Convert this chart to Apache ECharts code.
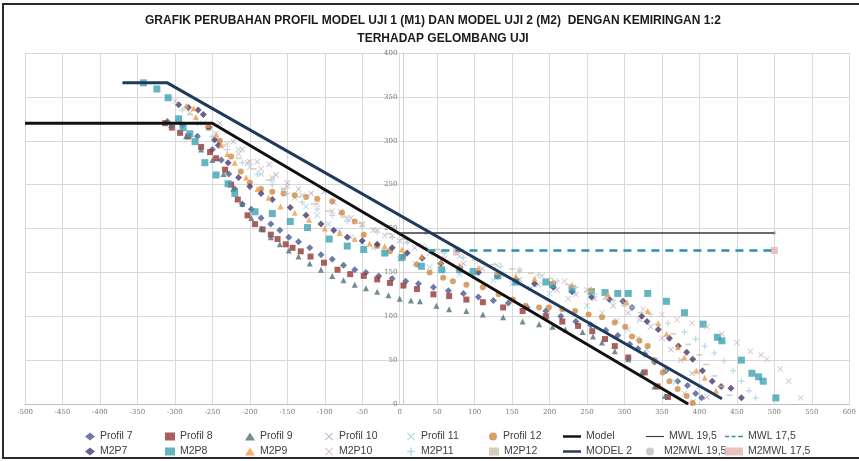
<!DOCTYPE html>
<html>
<head>
<meta charset="utf-8">
<script src="https://cdn.jsdelivr.net/npm/echarts@6/dist/echarts.min.js"></script>
<style>
html,body{margin:0;padding:0;background:#fff;}
#chart{width:859px;height:461px;}
</style>
</head>
<body>
<div id="chart"></div>
<script>
// ---- axis setup ----
const xAxisRange = [-500, 600, 50];
const yAxisRange = [0, 400, 50];

// ---- Model 1 series ----
const profil7 = [[-310,322],[-290,318],[-270,305],[-250,290],[-238,278],[-228,262],[-220,245],[-210,228],[-198,222],[-185,212],[-172,205],[-160,198],[-148,190],[-135,185],[-120,178],[-105,170],[-90,165],[-75,158],[-60,153],[-45,150],[-28,146],[-10,143],[8,140],[25,137],[45,133],[65,129],[85,126],[105,122],[125,118],[145,115],[170,110],[195,106],[215,100],[235,94],[255,90],[275,84],[291,78],[307,68],[318,63],[327,57],[340,48],[355,38],[371,26],[384,21],[395,12],[403,7]];
const profil8 = [[-313,320],[-304,315],[-293,309],[-282,305],[-265,293],[-253,287],[-245,280],[-233,267],[-225,250],[-216,233],[-203,215],[-193,205],[-183,199],[-172,193],[-163,188],[-152,182],[-143,178],[-132,174],[-119,168],[-101,161],[-83,153],[-66,148],[-48,146],[-30,142],[-13,138],[5,135],[23,131],[45,125],[66,123],[89,119],[111,116],[138,110],[164,106],[195,100],[217,94],[238,89],[257,83],[274,74],[287,66],[305,53],[327,36],[344,20],[358,8]];
const profil9 = [[-305,318],[-285,305],[-265,290],[-250,278],[-235,262],[-222,245],[-210,228],[-198,212],[-185,200],[-172,190],[-160,182],[-148,175],[-135,168],[-120,160],[-105,153],[-90,146],[-75,141],[-60,136],[-45,132],[-30,128],[-15,124],[0,120],[15,118],[27,117],[49,112],[66,108],[89,106],[111,102],[138,99],[164,94],[186,91],[204,88],[221,85],[244,82],[258,77],[270,70],[287,60],[305,51],[323,36],[340,20],[354,9]];
const profil10 = [[-240,320],[-222,299],[-210,290],[-203,275],[-190,276],[-174,273],[-165,261],[-150,252],[-135,245],[-118,240],[-101,242],[-88,230],[-79,219],[-65,212],[-50,205],[-35,198],[-20,192],[0,186],[20,178],[40,172],[60,166],[85,160],[110,154],[135,148],[160,142],[185,136],[210,130],[235,125],[260,120],[285,112],[305,104],[320,96],[335,88],[350,75],[362,62],[375,50],[390,35],[400,20],[410,8]];
const profil11 = [[-230,310],[-215,290],[-200,270],[-185,262],[-170,255],[-155,245],[-140,235],[-125,225],[-110,215],[-95,205],[-80,198],[-65,190],[-50,184],[-35,178],[-18,172],[0,165],[20,160],[40,156],[60,152],[80,148],[100,145],[125,141],[150,137],[175,132],[200,126],[225,120],[250,112],[270,104],[290,95],[305,85],[318,75],[330,62],[342,50],[355,38],[368,25],[380,12],[392,3]];
const profil12 = [[-255,315],[-240,300],[-225,282],[-212,265],[-200,252],[-185,245],[-170,242],[-155,240],[-140,238],[-125,236],[-110,234],[-90,231],[-77,218],[-60,208],[-48,193],[-30,180],[-13,174],[5,168],[23,159],[40,150],[58,144],[71,140],[89,136],[111,133],[132,125],[151,119],[168,112],[186,110],[199,110],[217,108],[234,106],[252,102],[270,99],[287,93],[301,88],[310,77],[320,72],[331,66],[340,50],[351,36],[360,26],[371,17],[383,9],[391,1]];
const model1 = [[-500,320],[-250,320],[385,0]];
const mwl195 = [[0,195],[500,195]];
const mwl175 = [[37,175],[500,175]];

// ---- Model 2 series ----
const m2p7 = [[-295,341],[-282,338],[-269,335],[-262,330],[-255,315],[-247,301],[-242,295],[-229,275],[-215,258],[-200,248],[-185,240],[-170,233],[-146,224],[-125,215],[-105,205],[-88,198],[-70,190],[-50,186],[-30,182],[-10,178],[10,172],[30,166],[55,160],[80,155],[105,150],[130,146],[155,141],[180,137],[205,133],[230,128],[256,122],[280,119],[298,117],[310,110],[323,100],[330,94],[345,85],[360,75],[372,66],[383,59],[391,51],[404,38],[417,26],[429,20],[442,18],[456,7]];
const m2p8 = [[-342,366],[-324,359],[-309,349],[-295,325],[-289,315],[-280,308],[-273,299],[-260,275],[-245,261],[-229,251],[-220,240],[-193,219],[-170,217],[-146,208],[-123,201],[-94,188],[-70,180],[-48,176],[-20,172],[3,167],[29,157],[56,153],[80,153],[98,151],[131,146],[155,139],[195,139],[204,136],[230,131],[256,128],[274,127],[291,126],[305,126],[331,126],[356,117],[380,104],[405,91],[424,76],[430,72],[456,50],[470,35],[479,31],[485,26],[502,7]];
const m2p9 = [[-285,340],[-275,337],[-272,327],[-256,318],[-245,307],[-238,295],[-230,285],[-220,275],[-205,258],[-190,245],[-175,235],[-159,225],[-140,218],[-121,210],[-100,200],[-80,195],[-60,188],[-40,183],[-20,180],[3,176],[29,168],[55,162],[80,158],[105,155],[130,150],[155,146],[180,143],[205,140],[230,136],[256,131],[278,125],[303,116],[331,106],[345,92],[356,80],[371,65],[380,53],[396,38],[407,30],[422,15]];
const m2p10 = [[-300,345],[-280,332],[-262,320],[-245,308],[-230,296],[-215,285],[-200,276],[-185,268],[-170,258],[-150,248],[-130,238],[-110,228],[-90,220],[-70,212],[-50,205],[-30,198],[-10,192],[10,186],[30,180],[55,174],[80,168],[105,163],[130,158],[160,152],[190,146],[220,140],[250,130],[275,122],[300,115],[325,108],[350,102],[370,96],[390,92],[410,88],[430,80],[450,70],[468,60],[482,56],[490,51],[508,40],[519,26],[535,7]];
const m2p11 = [[-290,335],[-270,320],[-250,305],[-230,290],[-210,275],[-190,262],[-170,250],[-150,240],[-130,230],[-110,222],[-90,215],[-70,208],[-50,202],[-30,196],[-10,190],[10,184],[35,178],[60,172],[85,167],[110,162],[135,157],[160,152],[185,147],[210,140],[235,133],[260,125],[285,118],[310,110],[335,102],[358,92],[380,82],[395,74],[407,66],[420,58],[433,49],[445,38],[456,26],[466,15],[475,7]];
const m2p12 = [[-280,330],[-255,312],[-235,295],[-215,280],[-195,268],[-175,255],[-155,245],[-135,236],[-115,228],[-95,220],[-75,213],[-55,206],[-35,200],[-15,194],[5,188],[25,182],[50,176],[75,170],[100,164],[125,159],[150,154],[175,149],[200,143],[225,136],[250,128],[275,120],[300,112],[322,104],[344,91],[365,80],[385,68],[400,56],[409,45],[420,32],[430,20],[440,10]];
const model2 = [[-370,366],[-310,366],[430,6]];
const m2mwl195 = [[35,195],[500,195]];
const m2mwl175 = [[76,175],[500,175]];

const legendRow1 = ['Profil 7','Profil 8','Profil 9','Profil 10','Profil 11','Profil 12','Model','MWL 19,5','MWL 17,5'];
const legendRow2 = ['M2P7','M2P8','M2P9','M2P10','M2P11','M2P12','MODEL 2','M2MWL 19,5','M2MWL 17,5'];

const SYM_X = 'path://M1,0L5,4L9,0L10,1L6,5L10,9L9,10L5,6L1,10L0,9L4,5L0,1Z';
const SYM_PLUS = 'path://M4,0H6V4H10V6H6V10H4V6H0V4H4Z';
const ICON_THICK = 'path://M0,3H22V6H0Z';
const ICON_THIN = 'path://M0,3.8H22V5.2H0Z';
const ICON_DASH = 'path://M0,3.5H5V5.5H0ZM8,3.5H13V5.5H8ZM16,3.5H22V5.5H16Z';

function sc(name, data, symbol, size, color) {
  return {name, type:'scatter', data, symbol, symbolSize:size,
    itemStyle:{color}, animation:false, z:3};
}
function ln(name, data, color, width, type) {
  return {name, type:'line', data, symbol:'none', showSymbol:false,
    lineStyle:{color, width, type:type||'solid'}, itemStyle:{color},
    animation:false, z:4};
}

const series = [
  sc('Profil 7', profil7, 'diamond', 7, '#4a5a8f'),
  sc('Profil 8', profil8, 'rect', 6, '#953735'),
  sc('Profil 9', profil9, 'triangle', 6, '#4f6f7e'),
  sc('Profil 10', profil10, SYM_X, 6, '#b6a6c8'),
  sc('Profil 11', profil11, SYM_X, 6, '#9ccbdb'),
  sc('Profil 12', profil12, 'circle', 6, '#d08a44'),
  ln('Model', model1, '#111111', 3),
  ln('MWL 19,5', mwl195, '#3a3a3a', 1.5),
  ln('MWL 17,5', mwl175, '#2f8fa8', 2.5, [8,6]),
  sc('M2P7', m2p7, 'diamond', 7, '#47386e'),
  sc('M2P8', m2p8, 'rect', 7, '#3fa1b2'),
  sc('M2P9', m2p9, 'triangle', 6, '#f09a48'),
  sc('M2P10', m2p10, SYM_X, 6, '#d2b3b6'),
  sc('M2P11', m2p11, SYM_PLUS, 6, '#a8cfe0'),
  sc('M2P12', m2p12, 'rect', [6,1.5], '#c9c2aa'),
  ln('MODEL 2', model2, '#1f3a5a', 3),
  sc('M2MWL 19,5', m2mwl195, 'circle', 4, '#bdbdbd'),
  sc('M2MWL 17,5', m2mwl175, 'rect', 7, '#e6b0b0')
];

// ---- layout ----
const W = 859, gridLeft = 25, gridRight = 1.5;
const gridWidth = W - gridLeft - gridRight;
const yAxisOffset = -gridWidth * (0 - xAxisRange[0]) / (xAxisRange[1] - xAxisRange[0]);

const legendText = {fontSize:10.5, color:'#404040', fontFamily:'Liberation Sans, Arial, sans-serif'};
const lineIcons = {'Model':ICON_THICK, 'MWL 19,5':ICON_THIN, 'MWL 17,5':ICON_DASH, 'MODEL 2':ICON_THICK};
const legendSlotsLeft = [85, 165, 245, 325, 407, 489, 563, 646, 725];

function buildLegends(names, top) {
  return names.map((n, i) => {
    const wide = i >= 6;
    const item = lineIcons[n] ? {name:n, icon:lineIcons[n]} : {name:n};
    return {data:[item], left:legendSlotsLeft[i], top, padding:0,
      itemWidth: wide ? 18 : 10, itemHeight:8, textStyle:legendText};
  });
}

const option = {
  backgroundColor:'#ffffff',
  animation:false,
  title:[
    {text:'GRAFIK PERUBAHAN PROFIL MODEL UJI 1 (M1) DAN MODEL UJI 2 (M2)  DENGAN KEMIRINGAN 1:2',
     left:428, top:10, textAlign:'center',
     textStyle:{fontSize:12, fontWeight:'bold', color:'#1a1a1a', fontFamily:'Liberation Sans Narrow, Arial Narrow, Liberation Sans, sans-serif'}},
    {text:'TERHADAP GELOMBANG UJI', left:438, top:28, textAlign:'center',
     textStyle:{fontSize:12, fontWeight:'bold', color:'#1a1a1a', fontFamily:'Liberation Sans Narrow, Arial Narrow, Liberation Sans, sans-serif'}}
  ],
  grid:{left:gridLeft, right:gridRight, top:53, bottom:57, containLabel:false},
  xAxis:{type:'value', min:xAxisRange[0], max:xAxisRange[1], interval:xAxisRange[2],
    axisLine:{show:true, onZero:false, lineStyle:{color:'#bfbfbf'}},
    axisTick:{show:false},
    axisLabel:{fontSize:7, color:'#7a7a7a', margin:5, fontFamily:'DejaVu Serif, serif'},
    splitLine:{show:true, lineStyle:{color:'#d9d9d9', width:1}}},
  yAxis:{type:'value', min:yAxisRange[0], max:yAxisRange[1], interval:yAxisRange[2],
    offset:yAxisOffset,
    axisLine:{show:true, onZero:false, lineStyle:{color:'#d0d0d0'}},
    axisTick:{show:false},
    axisLabel:{fontSize:7, color:'#7a7a7a', margin:6, fontFamily:'DejaVu Serif, serif'},
    splitLine:{show:true, lineStyle:{color:'#d9d9d9', width:1}}},
  legend: buildLegends(legendRow1, 431).concat(buildLegends(legendRow2, 446)),
  graphic:[
    {type:'rect', shape:{x:3, y:4, width:870, height:454}, silent:true, z:-1,
     style:{fill:'none', stroke:'#2a2a2a', lineWidth:2}}
  ],
  series
};

const chart = echarts.init(document.getElementById('chart'), null, {renderer:'canvas'});
chart.setOption(option);
</script>
</body>
</html>
